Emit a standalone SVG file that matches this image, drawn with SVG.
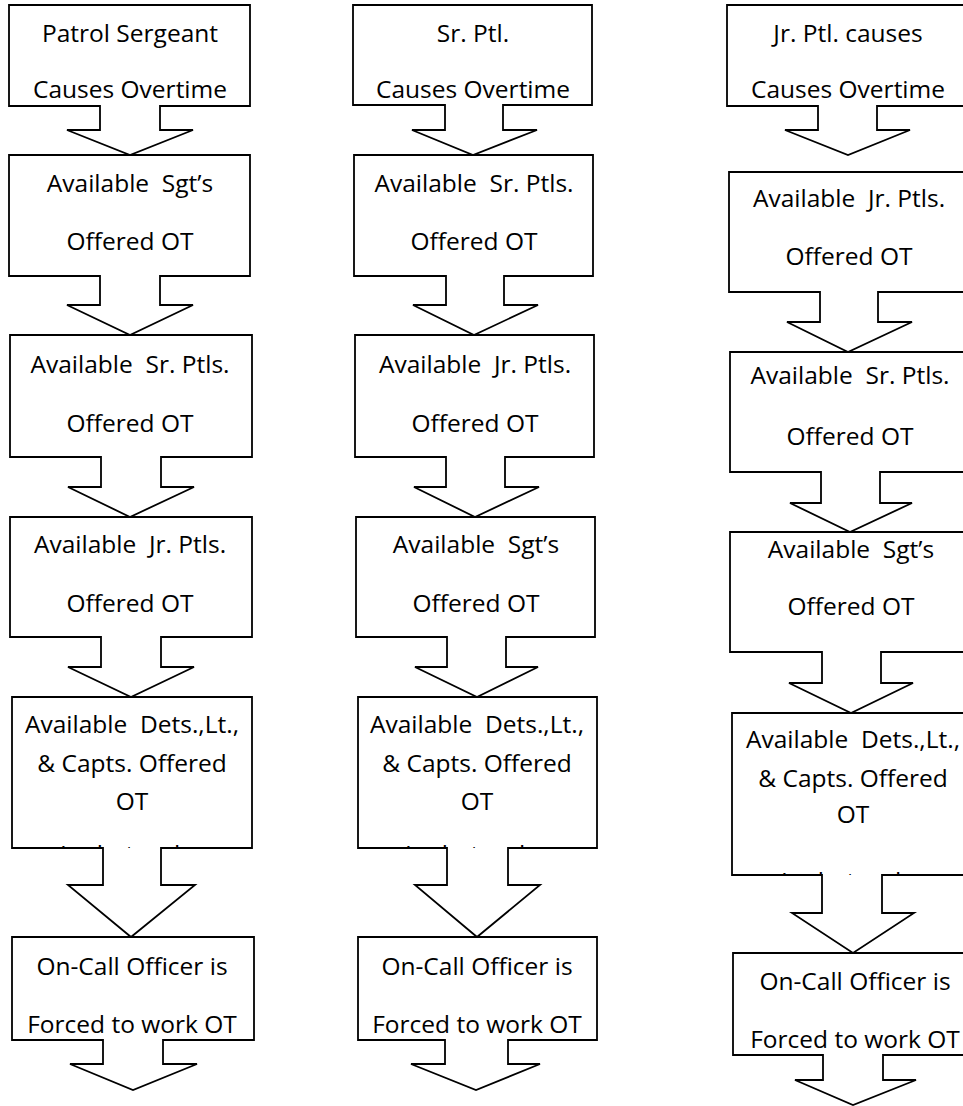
<svg xmlns="http://www.w3.org/2000/svg" width="963" height="1106" viewBox="0 0 963 1106">
<style>
.shape{fill:#fff;stroke:#000;stroke-width:1.8;stroke-linejoin:miter}
.t{font-family:"Open Sans","Noto Sans","Liberation Sans",sans-serif;font-size:24.5px;fill:#000;text-anchor:middle;white-space:pre}
</style>
<defs>
<clipPath id="c15"><rect x="12" y="697" width="240" height="151"/></clipPath>
<clipPath id="c25"><rect x="358" y="697" width="239" height="151"/></clipPath>
<clipPath id="c35"><rect x="732" y="713" width="240" height="162"/></clipPath>
</defs>
<rect width="963" height="1106" fill="#fff"/>

<!-- Column 1 -->
<g id="c1n1"><path class="shape" d="M9,5 H250 V106 H160 V130 H193 L130,155 L67,130 H100 V106 H9 Z"/>
<text class="t" x="130" y="42">Patrol Sergeant</text><text class="t" x="130" y="98">Causes Overtime</text></g>
<g id="c1n2"><path class="shape" d="M9,155 H250 V276 H160 V305 H193 L130,335 L67,305 H100 V276 H9 Z"/>
<text class="t" x="130" y="192" xml:space="preserve">Available  Sgt’s</text><text class="t" x="130" y="250">Offered OT</text></g>
<g id="c1n3"><path class="shape" d="M10,335 H252 V457 H161 V487 H194 L130,517 L68,487 H101 V457 H10 Z"/>
<text class="t" x="130" y="373" xml:space="preserve">Available  Sr. Ptls.</text><text class="t" x="130" y="432">Offered OT</text></g>
<g id="c1n4"><path class="shape" d="M10,517 H252 V637 H161 V667 H194 L131,697 L68,667 H101 V637 H10 Z"/>
<text class="t" x="130" y="553" xml:space="preserve">Available  Jr. Ptls.</text><text class="t" x="130" y="612">Offered OT</text></g>
<g id="c1n5"><path class="shape" d="M12,697 H252 V848 H161 V885 H195 L131,937 L68,885 H103 V848 H12 Z"/>
<text class="t" x="132" y="733" xml:space="preserve">Available  Dets.,Lt.,</text><text class="t" x="132" y="772">&amp; Capts. Offered</text><text class="t" x="132" y="810">OT</text>
<text class="t" x="132" y="863" clip-path="url(#c15)">In that order</text></g>
<g id="c1n6"><path class="shape" d="M12,937 H254 V1040 H163 V1064 H197 L133,1090 L70,1064 H103 V1040 H12 Z"/>
<text class="t" x="132" y="975">On-Call Officer is</text><text class="t" x="132" y="1033">Forced to work OT</text></g>

<!-- Column 2 -->
<g id="c2n1"><path class="shape" d="M353,5 H592 V105 H503 V130 H537 L473,155 L412,130 H445 V105 H353 Z"/>
<text class="t" x="473" y="42">Sr. Ptl.</text><text class="t" x="473" y="98">Causes Overtime</text></g>
<g id="c2n2"><path class="shape" d="M354,155 H593 V276 H504 V305 H538 L474,335 L413,305 H446 V276 H354 Z"/>
<text class="t" x="474" y="192" xml:space="preserve">Available  Sr. Ptls.</text><text class="t" x="474" y="250">Offered OT</text></g>
<g id="c2n3"><path class="shape" d="M355,335 H594 V457 H505 V487 H539 L475,517 L414,487 H446 V457 H355 Z"/>
<text class="t" x="475" y="373" xml:space="preserve">Available  Jr. Ptls.</text><text class="t" x="475" y="432">Offered OT</text></g>
<g id="c2n4"><path class="shape" d="M356,517 H595 V637 H506 V667 H538 L477,697 L415,667 H447 V637 H356 Z"/>
<text class="t" x="476" y="553" xml:space="preserve">Available  Sgt’s</text><text class="t" x="476" y="612">Offered OT</text></g>
<g id="c2n5"><path class="shape" d="M358,697 H597 V848 H508 V885 H540 L477,937 L415,885 H447 V848 H358 Z"/>
<text class="t" x="477" y="733" xml:space="preserve">Available  Dets.,Lt.,</text><text class="t" x="477" y="772">&amp; Capts. Offered</text><text class="t" x="477" y="810">OT</text>
<text class="t" x="477" y="863" clip-path="url(#c25)">In that order</text></g>
<g id="c2n6"><path class="shape" d="M358,937 H597 V1040 H508 V1064 H540 L476,1090 L411,1064 H445 V1040 H358 Z"/>
<text class="t" x="477" y="975">On-Call Officer is</text><text class="t" x="477" y="1033">Forced to work OT</text></g>

<!-- Column 3 -->
<g id="c3n1"><path class="shape" d="M727,5 H970 V106 H877 V130 H910 L848,155 L785,130 H818 V106 H727 Z"/>
<text class="t" x="848" y="42">Jr. Ptl. causes</text><text class="t" x="848" y="98">Causes Overtime</text></g>
<g id="c3n2"><path class="shape" d="M729,172 H970 V292 H878 V322 H912 L848,352 L787,322 H820 V292 H729 Z"/>
<text class="t" x="849" y="207" xml:space="preserve">Available  Jr. Ptls.</text><text class="t" x="849" y="265">Offered OT</text></g>
<g id="c3n3"><path class="shape" d="M730,352 H970 V472 H880 V503 H912 L850,532 L790,503 H821 V472 H730 Z"/>
<text class="t" x="850" y="384" xml:space="preserve">Available  Sr. Ptls.</text><text class="t" x="850" y="445">Offered OT</text></g>
<g id="c3n4"><path class="shape" d="M730,532 H970 V652 H881 V683 H913 L851,713 L789,683 H822 V652 H730 Z"/>
<text class="t" x="851" y="558" xml:space="preserve">Available  Sgt’s</text><text class="t" x="851" y="615">Offered OT</text></g>
<g id="c3n5"><path class="shape" d="M732,713 H972 V875 H882 V913 H914 L853,953 L792,913 H822 V875 H732 Z"/>
<text class="t" x="853" y="748" xml:space="preserve">Available  Dets.,Lt.,</text><text class="t" x="853" y="787">&amp; Capts. Offered</text><text class="t" x="853" y="823">OT</text>
<text class="t" x="853" y="890" clip-path="url(#c35)">In that order</text></g>
<g id="c3n6"><path class="shape" d="M733,953 H973 V1055 H883 V1080 H916 L853,1105 L795,1080 H823 V1055 H733 Z"/>
<text class="t" x="855" y="990">On-Call Officer is</text><text class="t" x="855" y="1048">Forced to work OT</text></g>
</svg>
